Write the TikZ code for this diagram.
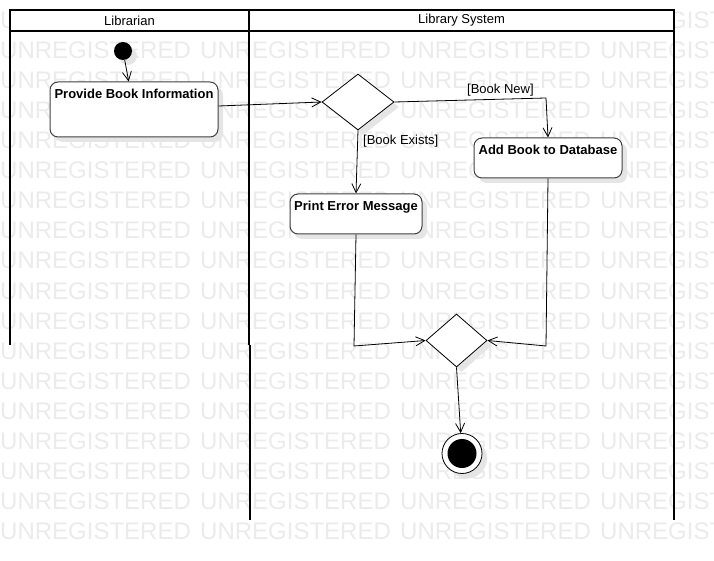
\documentclass[tikz,border=0pt]{standalone}
\usepackage{fontspec}
\setmainfont{Liberation Sans}
\usetikzlibrary{shapes.geometric,arrows.meta,shadows}
\begin{document}
\begin{tikzpicture}[x=1pt,y=-1pt,
  wm/.style={anchor=base west,inner sep=0pt,text=black!8,font=\fontsize{24}{24}\selectfont},
  lanehead/.style={draw=black,line width=2pt,fill=white,inner sep=0pt,font=\fontsize{13}{15}\selectfont},
  laneline/.style={draw=black,line width=2pt},
  shad/.style={drop shadow={shadow xshift=5pt,shadow yshift=-5pt,fill=black!10,opacity=1}},
  act/.style={draw=black!75,line width=1pt,rounded corners=8pt,fill=white,inner sep=0pt,shad},
  acttext/.style={anchor=base,inner sep=0pt,font=\fontsize{13}{15}\selectfont\bfseries},
  guard/.style={anchor=base west,inner sep=0pt,font=\fontsize{13}{15}\selectfont},
  decision/.style={diamond,draw=black,line width=0.8pt,fill=white,inner sep=0pt,shad},
  arr/.style={draw=black,line width=0.8pt,-{Straight Barb[length=9pt,width=9pt]}},
  ]
\useasboundingbox (0,0) rectangle (714,561);
% watermark
\foreach \r in {0,...,17}{
  \foreach \c in {0,200,400,600}{
    \node[wm] (wm-\r-\c) at (\c,{29+30*\r}) {UNREGISTERED};
  }
}
% swimlanes
\draw[laneline] (10,31) -- (10,345);
\draw[laneline] (249,31) -- (249,345);
\draw[laneline] (250,345) -- (250,520);
\draw[laneline] (674,31) -- (674,520);
\node[lanehead,minimum width=239pt,minimum height=21pt] (h1) at (129.5,20.5) {Librarian};
\node[lanehead,minimum width=425pt,minimum height=21pt] (h2) at (461.5,20.5) {Library System};
% nodes
\node[circle,fill=black,minimum size=18pt,inner sep=0pt,shad] (init) at (123,51) {};
\node[act,minimum width=168pt,minimum height=55pt] (pbi) at (134,109.5) {};
\node[acttext] (pbi-t) at ([yshift=-17.5pt]pbi.north) {Provide Book Information};
\node[decision,minimum width=72pt,minimum height=56pt] (d1) at (358,102) {};
\node[act,minimum width=132pt,minimum height=40pt] (pe) at (356,214) {};
\node[acttext] (pe-t) at ([yshift=-17.5pt]pe.north) {Print Error Message};
\node[act,minimum width=148pt,minimum height=40pt] (ab) at (548,158) {};
\node[acttext] (ab-t) at ([yshift=-17.5pt]ab.north) {Add Book to Database};
\node[decision,minimum width=61pt,minimum height=53pt] (d2) at (456.5,340.5) {};
\node[circle,draw=black,line width=0.8pt,fill=white,minimum size=40pt,inner sep=0pt,shad] (fin) at (462,453.5) {};
\node[circle,fill=black,minimum size=29pt,inner sep=0pt] (fin-in) at (fin.center) {};
% bend points
\coordinate (b1) at (546,98);
\coordinate (b2) at (354,346);
\coordinate (b3) at (546,346);
% connectors
\draw[arr] (init) -- (pbi);
\draw[arr] ([yshift=3.5pt]pbi.east) -- (d1.west);
\draw[arr] (d1.east) -- (b1) -- (ab.north);
\draw[arr] (d1.south) -- (pe.north);
\draw[arr] (pe.south) -- (b2) -- (d2.west);
\draw[arr] (ab.south) -- (b3) -- (d2.east);
\draw[arr] (d2.south) -- (fin);
% guards
\node[guard] (g1) at (467,94) {[Book New]};
\node[guard] (g2) at (363,145) {[Book Exists]};
\end{tikzpicture}
\end{document}
